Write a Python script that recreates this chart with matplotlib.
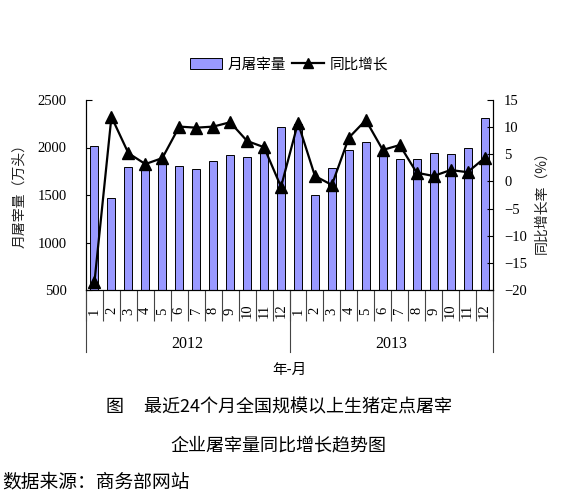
import matplotlib
matplotlib.use("Agg")
import matplotlib.pyplot as plt
import numpy as np
from matplotlib.patches import Patch
from matplotlib.lines import Line2D

plt.rcParams['font.family'] = ['Noto Sans CJK SC', 'DejaVu Sans']

months = ['1', '2', '3', '4', '5', '6', '7', '8', '9', '10', '11', '12'] * 2
years = ['2012', '2013']
slaughter = [2020, 1472, 1798, 1790, 1840, 1805, 1774, 1861, 1924, 1896, 1963, 2212,
             2250, 1503, 1781, 1970, 2055, 1910, 1882, 1882, 1945, 1935, 1998, 2314]
growth = [-18.5, 11.9, 5.2, 3.2, 4.3, 10.1, 9.9, 10.1, 10.9, 7.45, 6.3, -1.0,
          10.8, 1.0, -0.65, 8.05, 11.3, 5.8, 6.7, 1.6, 1.0, 2.1, 1.7, 4.3]
left_ticks = [500, 1000, 1500, 2000, 2500]
right_ticks = [-20, -15, -10, -5, 0, 5, 10, 15]

num_font = 'Liberation Serif'
bar_color = '#9999FF'

fig = plt.figure(figsize=(5.63, 4.93), dpi=100)
ax = fig.add_axes([86/563, 1-290/493, (493-86)/563, 190/493])
ax2 = ax.twinx()

x = np.arange(len(slaughter))
ax.bar(x, slaughter, width=0.47, color=bar_color, edgecolor='black', linewidth=0.7, zorder=2)
ax.set_xlim(-0.5, len(slaughter) - 0.5)
ax.set_ylim(500, 2500)
ax.set_yticks(left_ticks)
ax.set_yticklabels([str(v) for v in left_ticks], fontfamily=num_font, fontsize=10.5)
ax.tick_params(axis='y', direction='in', length=4, width=0.8, pad=14)

ax2.plot(x, growth, color='black', linewidth=1.6, marker='^', markersize=9, zorder=3, clip_on=False)
ax2.set_ylim(-20, 15)
ax2.set_yticks(right_ticks)
ax2.set_yticklabels([str(v).replace('-', '−') for v in right_ticks], fontfamily=num_font, fontsize=10.5)
ax2.tick_params(axis='y', direction='in', length=4, width=0.8, pad=8)

ax.set_xticks(x)
ax.set_xticklabels(months, rotation=90, fontfamily=num_font, fontsize=10.5)
for lab in ax.get_xticklabels():
    lab.set_va('center')
ax.tick_params(axis='x', which='major', length=0, pad=15)
ax.set_xticks(np.arange(-0.5, len(slaughter), 1.0), minor=True)
ax.tick_params(axis='x', which='minor', direction='out', length=22, width=0.8, color='#444444')

for xv in [-0.5, 11.5, 23.5]:
    ax.axvline(xv, ymin=-62/190, ymax=0, color='#444444', linewidth=0.8, clip_on=False)

for i, yr in enumerate(years):
    ax.text(5.5 + 12 * i, -54/190, yr, transform=ax.get_xaxis_transform(),
            ha='center', va='center', fontfamily=num_font, fontsize=11.5)
ax.text(0.5, -80/190, '年-月', transform=ax.transAxes, ha='center', va='center', fontsize=10.5)

for a in (ax, ax2):
    for s in a.spines.values():
        s.set_linewidth(0.8)
    a.spines['top'].set_visible(False)

fig.text(19/563, 1-192/493, '月屠宰量（万头）', rotation=90, ha='center', va='center', fontsize=10, color='#222222')
fig.text(541/563, 1-199/493, '同比增长率（%）', rotation=90, ha='center', va='center', fontsize=10, color='#222222')

handles = [Patch(facecolor=bar_color, edgecolor='black', linewidth=0.7),
           Line2D([0], [0], color='black', linewidth=1.6, marker='^', markersize=7)]
fig.legend(handles, ['月屠宰量', '同比增长'], loc='center', bbox_to_anchor=(289/563, 1-64.5/493),
           ncol=2, frameon=False, fontsize=10.5, handlelength=2.2, handletextpad=0.4, columnspacing=0.4)

fig.text(279/563, 1-407/493, '图     最近24个月全国规模以上生猪定点屠宰', ha='center', va='center', fontsize=13)
fig.text(278/563, 1-446/493, '企业屠宰量同比增长趋势图', ha='center', va='center', fontsize=13)
fig.text(2/563, 1-482/493, '数据来源：商务部网站', ha='left', va='center', fontsize=13.5)

fig.savefig('out.png', dpi=100)
